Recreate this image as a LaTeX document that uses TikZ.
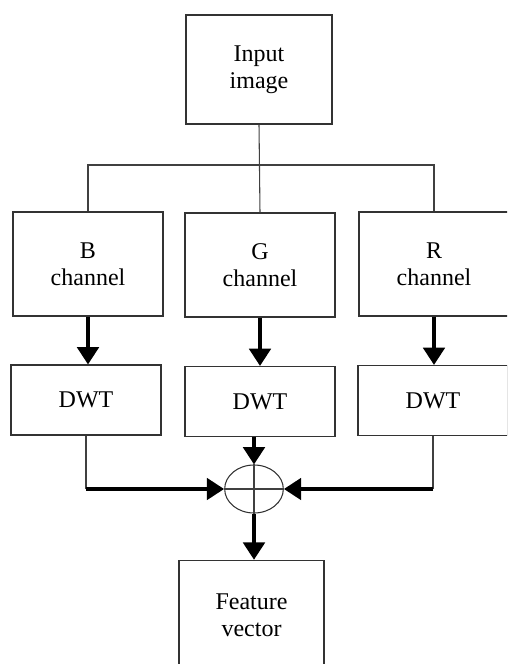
\documentclass[tikz,border=0pt]{standalone}
\usepackage{fontspec}
\setmainfont{Liberation Serif}
\usetikzlibrary{shapes.geometric,arrows.meta,positioning,calc}

\begin{document}
\begin{tikzpicture}[
                x=0.75pt,y=-0.75pt,
                box/.style={draw=black!80,line width=0.8pt,minimum width=112.5pt,minimum height=78pt,inner sep=0pt,align=center,font=\fontsize{18}{20.5}\selectfont},
                dwt/.style={box,minimum height=52.5pt},
                sum/.style={draw=black!80,line width=0.8pt,ellipse,minimum width=44pt,minimum height=36pt,inner sep=0pt},
                link/.style={draw=black!75,line width=0.8pt},
                flow/.style={line width=3pt,-{Triangle[width=16pt,length=13pt]}}
            ]
                \clip (0,0) rectangle (507,664);
                \node[box,minimum width=109.5pt,minimum height=81.75pt] (in) at (259,69.5) {Input\\image};
                \node[box] (bch) at (88,264) {B\\channel};
                \node[box] (gch) at (260,265) {G\\channel};
                \node[box] (rch) at (434,264) {R\\channel};
                \node[dwt] (bdwt) at (86,400) {DWT};
                \node[dwt] (gdwt) at (260,401.5) {DWT};
                \node[dwt] (rdwt) at (433,400.5) {DWT};
                \node[sum] (add) at (254,489) {};
                \node[box,minimum width=108.75pt,minimum height=82pt] (feat) at (251.5,615) {Feature\\vector};
                % tree from the input
                \coordinate (split) at (259,165);
                \draw[link] (in.south) -- (gch.north);
                \draw[link] (bch.north) |- (split) -| (rch.north);
                % channels to DWT
                \draw[flow] (bch.south) -- (bch.south |- bdwt.north);
                \draw[flow] (gch.south) -- (gch.south |- gdwt.north);
                \draw[flow] (rch.south) -- (rch.south |- rdwt.north);
                % into the adder
                \coordinate (bc) at (bdwt.south |- add.west);
                \coordinate (rc) at (rdwt.south |- add.east);
                \draw[link] (bdwt.south) -- (bc);
                \draw[link] (rdwt.south) -- (rc);
                \draw[flow] (bc) -- (add.west);
                \draw[flow] (rc) -- (add.east);
                \draw[flow] (add.north |- gdwt.south) -- (add.north);
                \draw[link] (add.north) -- (add.south) (add.west) -- (add.east);
                \draw[flow] (add.south) -- (add.south |- feat.north);
            \end{tikzpicture}
\end{document}
